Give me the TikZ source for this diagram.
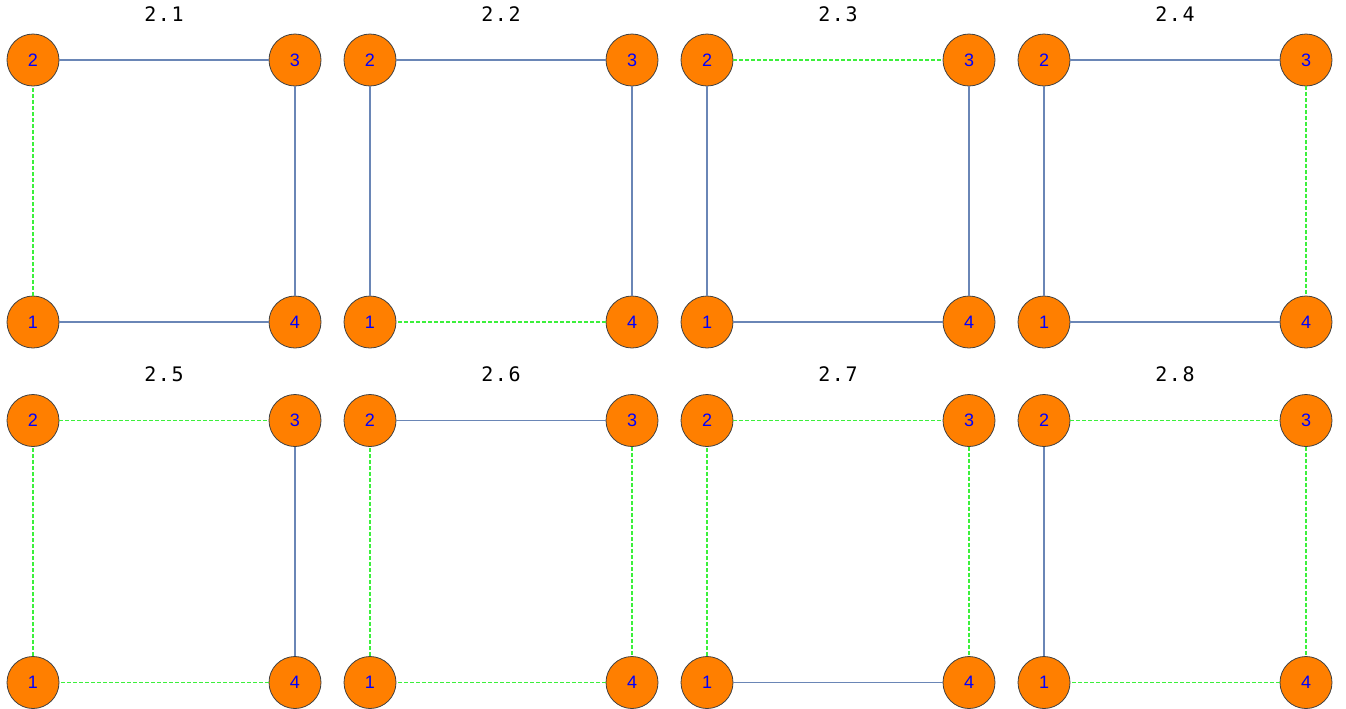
\documentclass[tikz,border=0pt]{standalone}
\usepackage{fontspec}
\setmainfont{Liberation Sans}
\newfontfamily\titlefont[LetterSpace=8]{DejaVu Sans Mono}
\usetikzlibrary{positioning}
\definecolor{vtxorange}{HTML}{FF7F00}
\definecolor{treeblue}{HTML}{6A86B6}
\definecolor{spangreen}{HTML}{3CF03C}
\tikzstyle{vtx}=[circle, draw=black!75, line width=0.6pt, fill=vtxorange, minimum size=39pt, inner sep=0pt, text=blue, font=\fontsize{13.5}{14}\selectfont]
\tikzstyle{ttl}=[font=\titlefont\fontsize{15}{16}\selectfont]
\tikzstyle{inT}=[treeblue, line width=1pt]
\tikzstyle{outT}=[spangreen, line width=0.8pt, dash pattern=on 3pt off 1.5pt]

\begin{document}
\begin{tikzpicture}[x=0.75pt, y=-0.75pt]
	\useasboundingbox (0,0) rectangle (1346,708);
	% top, right, bottom, left edge of each square
	\foreach \lbl/\t/\r/\b/\l [count=\n from 0] in {2.1/inT/inT/inT/outT, 2.2/inT/inT/outT/inT, 2.3/outT/inT/inT/inT, 2.4/inT/outT/inT/inT, 2.5/outT/inT/outT/outT, 2.6/inT/outT/outT/outT, 2.7/outT/outT/inT/outT, 2.8/outT/outT/outT/inT}{
		\pgfmathtruncatemacro{\col}{mod(\n,4)}
		\pgfmathtruncatemacro{\row}{\n/4}
		\pgfmathsetmacro{\xl}{33+337*\col}
		\pgfmathsetmacro{\yt}{60+360.5*\row}
		\node[ttl] (t\n) at (\xl+131,\yt-46) {\lbl};
		\node[vtx] (v\n-2) at (\xl,\yt) {2};
		\node[vtx] (v\n-3) at (\xl+262,\yt) {3};
		\node[vtx] (v\n-1) at (\xl,\yt+262) {1};
		\node[vtx] (v\n-4) at (\xl+262,\yt+262) {4};
		\draw[\t] (v\n-2) -- (v\n-3);
		\draw[\r] (v\n-3) -- (v\n-4);
		\draw[\b] (v\n-4) -- (v\n-1);
		\draw[\l] (v\n-1) -- (v\n-2);
	}
\end{tikzpicture}
\end{document}
